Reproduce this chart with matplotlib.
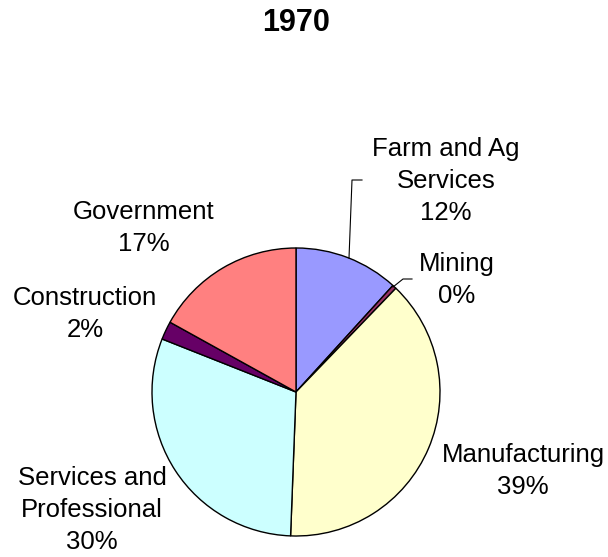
import matplotlib
matplotlib.use('Agg')
import matplotlib.pyplot as plt

plt.rcParams['font.family'] = ['Liberation Sans', 'DejaVu Sans']

labels = ['Farm and Ag\nServices', 'Mining', 'Manufacturing', 'Services and\nProfessional', 'Construction', 'Government']
values = [11.75, 0.45, 38.4, 30.4, 2.05, 16.95]
pct_text = ['12%', '0%', '39%', '30%', '2%', '17%']
colors = ['#9999FF', '#993366', '#FFFFCC', '#CCFFFF', '#660066', '#FF8080']

# label block centres (pixel coords, y from top)
label_pos = [(446, 181), (457, 280), (523, 471), (92, 510), (85, 314), (144, 228)]

W, H = 608, 557
fig = plt.figure(figsize=(W / 100, H / 100), dpi=100)
ax = fig.add_axes([0, 0, 1, 1])

ax.pie(values, colors=colors, startangle=90, counterclock=False,
       center=(296, H - 392), radius=144, frame=True,
       wedgeprops=dict(edgecolor='black', linewidth=1.0))
ax.set_xlim(0, W)
ax.set_ylim(0, H)
ax.set_aspect('equal')
ax.axis('off')

for lab, pct, (x, y) in zip(labels, pct_text, label_pos):
    ax.text(x, H - y, lab + '\n' + pct, ha='center', va='center',
            multialignment='center', fontsize=18.5, linespacing=1.4)

# leader lines
ax.plot([349, 352, 362], [H - 258, H - 180, H - 180], color='black', lw=0.8)
ax.plot([393, 403, 412], [H - 287, H - 279, H - 279], color='black', lw=0.8)

ax.text(296, H - 23, '1970', ha='center', va='center', fontsize=22, fontweight='bold')

fig.savefig('out.png', dpi=100)
